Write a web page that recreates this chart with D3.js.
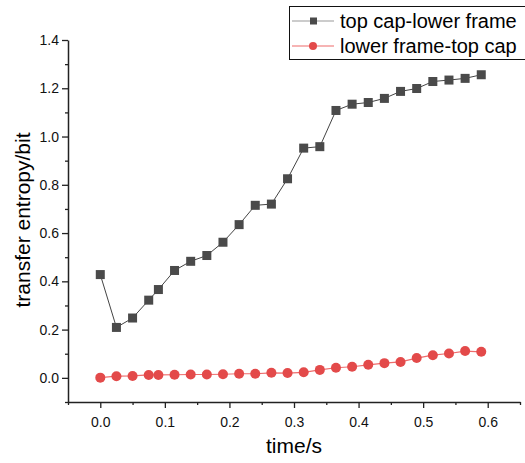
<!DOCTYPE html>
<html>
<head>
<meta charset="utf-8">
<script src="https://cdn.jsdelivr.net/npm/d3@7"></script>
<style>
  body { margin: 0; background: #fff; }
  svg { display: block; font-family: Arial, "Liberation Sans", sans-serif; }
</style>
</head>
<body>
<div id="chart"></div>
<script>
// time points (s)
var times = [0, 0.025, 0.05, 0.075, 0.09, 0.115, 0.14, 0.165, 0.19, 0.215, 0.24, 0.265, 0.29,
             0.315, 0.34, 0.365, 0.39, 0.415, 0.44, 0.465, 0.49, 0.515, 0.54, 0.565, 0.59];
// transfer entropy, top cap -> lower frame
var capToFrame = [0.428, 0.209, 0.248, 0.322, 0.366, 0.445, 0.483, 0.507, 0.562, 0.635, 0.715, 0.72, 0.825,
                  0.952, 0.958, 1.108, 1.134, 1.141, 1.158, 1.187, 1.199, 1.228, 1.234, 1.241, 1.256];
// transfer entropy, lower frame -> top cap
var frameToCap = [0.001, 0.007, 0.008, 0.012, 0.012, 0.013, 0.014, 0.014, 0.015, 0.017, 0.017, 0.021, 0.02,
                  0.023, 0.033, 0.042, 0.046, 0.054, 0.061, 0.066, 0.082, 0.094, 0.101, 0.111, 0.108];
var seriesNames = ["top cap-lower frame", "lower frame-top cap"];
var xTicks = [0, 0.1, 0.2, 0.3, 0.4, 0.5, 0.6];
var yTicks = [0, 0.2, 0.4, 0.6, 0.8, 1.0, 1.2, 1.4];

var width = 525, height = 463;
var margin = {left: 68, right: 5, top: 40, bottom: 61};

var svg = d3.select("#chart").append("svg")
    .attr("width", width)
    .attr("height", height);

var x = d3.scaleLinear().domain([-0.05, 0.65]).range([margin.left, width - margin.right]);
var y = d3.scaleLinear().domain([-0.1, 1.4]).range([height - margin.bottom, margin.top]);

var axisColor = "#222";

// minor ticks
var xMinor = d3.range(-0.05, 0.651, 0.05).filter(function(v) { return Math.abs(v * 10 - Math.round(v * 10)) > 0.01; });
var yMinor = d3.range(-0.1, 1.41, 0.1).filter(function(v) { return Math.abs(v * 5 - Math.round(v * 5)) > 0.01; });

var gx = svg.append("g").attr("transform", "translate(0," + y(-0.1) + ")");
gx.call(d3.axisBottom(x).tickValues(xTicks).tickFormat(d3.format(".1f")).tickSize(6).tickSizeOuter(0).tickPadding(9));
gx.append("g").call(d3.axisBottom(x).tickValues(xMinor).tickFormat("").tickSize(3).tickSizeOuter(0))
  .select(".domain").remove();

var gy = svg.append("g").attr("transform", "translate(" + x(-0.05) + ",0)");
gy.call(d3.axisLeft(y).tickValues(yTicks).tickFormat(d3.format(".1f")).tickSize(6).tickSizeOuter(0).tickPadding(3));
gy.append("g").call(d3.axisLeft(y).tickValues(yMinor).tickFormat("").tickSize(3).tickSizeOuter(0))
  .select(".domain").remove();

svg.selectAll(".domain").attr("stroke", axisColor).attr("stroke-width", 1.5);
svg.selectAll(".tick line").attr("stroke", axisColor).attr("stroke-width", 1.3);
svg.selectAll(".tick text").attr("font-size", 14).attr("fill", "#111")
   .attr("font-family", "Arial, 'Liberation Sans', sans-serif");

// axis titles
svg.append("text")
    .attr("x", (x(-0.05) + x(0.65)) / 2)
    .attr("y", 453)
    .attr("text-anchor", "middle")
    .attr("font-size", 21)
    .text("time/s");

svg.append("text")
    .attr("transform", "translate(30," + 220 + ") rotate(-90)")
    .attr("text-anchor", "middle")
    .attr("font-size", 21)
    .text("transfer entropy/bit");

var line = d3.line().x(function(d) { return x(d[0]); }).y(function(d) { return y(d[1]); });

var blackData = times.map(function(t, i) { return [t, capToFrame[i]]; });
var redData = times.map(function(t, i) { return [t, frameToCap[i]]; });

// red series
svg.append("path").datum(redData)
    .attr("fill", "none").attr("stroke", "#ee6b6b").attr("stroke-width", 1.2)
    .attr("d", line);
svg.selectAll(".red-dot").data(redData).enter().append("circle")
    .attr("cx", function(d) { return x(d[0]); })
    .attr("cy", function(d) { return y(d[1]); })
    .attr("r", 5)
    .attr("fill", "#e34a4a");

// black series
svg.append("path").datum(blackData)
    .attr("fill", "none").attr("stroke", "#444").attr("stroke-width", 1)
    .attr("d", line);
svg.selectAll(".sq").data(blackData).enter().append("rect")
    .attr("x", function(d) { return x(d[0]) - 4.5; })
    .attr("y", function(d) { return y(d[1]) - 4.5; })
    .attr("width", 9).attr("height", 9)
    .attr("fill", "#4a4a4a");

// legend
var legend = svg.append("g");
legend.append("rect")
    .attr("x", 289.5).attr("y", 6.5)
    .attr("width", 260).attr("height", 53)
    .attr("fill", "#fff").attr("stroke", "#111").attr("stroke-width", 1);

var legendItems = [
  {name: seriesNames[0], line: "#999", mark: "#4a4a4a", shape: "square", cy: 21},
  {name: seriesNames[1], line: "#ee6b6b", mark: "#e34a4a", shape: "circle", cy: 46}
];
legendItems.forEach(function(it) {
  legend.append("line")
      .attr("x1", 292).attr("x2", 334).attr("y1", it.cy).attr("y2", it.cy)
      .attr("stroke", it.line).attr("stroke-width", 1.2);
  if (it.shape == "square") {
    legend.append("rect").attr("x", 310).attr("y", it.cy - 3.5).attr("width", 7).attr("height", 7).attr("fill", it.mark);
  } else {
    legend.append("circle").attr("cx", 313).attr("cy", it.cy).attr("r", 4).attr("fill", it.mark);
  }
  legend.append("text")
      .attr("x", 340).attr("y", it.cy + 7)
      .attr("font-size", 20)
      .text(it.name);
});
</script>
</body>
</html>
